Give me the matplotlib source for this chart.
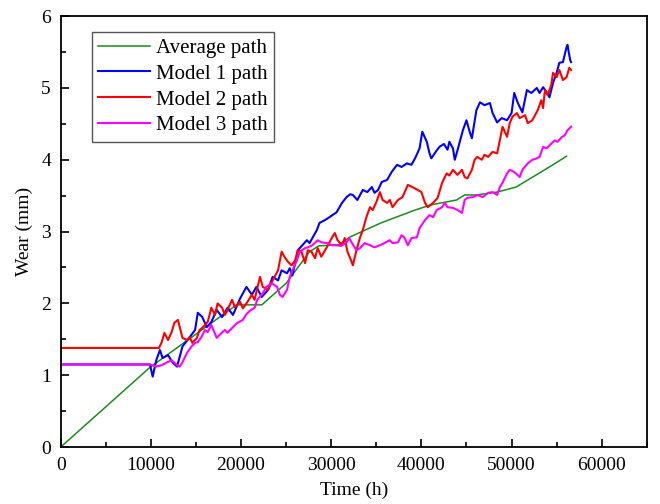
import matplotlib
matplotlib.use("Agg")
import matplotlib.pyplot as plt
from matplotlib.ticker import MultipleLocator

plt.rcParams['font.family'] = ['Liberation Serif', 'DejaVu Serif']
plt.rcParams['mathtext.fontset'] = 'stix'

# Average path (piecewise)
avg_t = [0, 9900, 19500, 22300, 25000, 27600, 28600, 30900, 32000, 35500,
         39300, 41000, 43900, 44800, 46100, 48400, 50500, 54200, 56100]
avg_w = [0, 1.11, 1.98, 1.98, 2.28, 2.72, 2.80, 2.82, 2.92, 3.12,
         3.30, 3.37, 3.44, 3.51, 3.51, 3.55, 3.62, 3.90, 4.05]

# Model 1 path
m1_t = [0, 9900, 10200, 10600, 11000, 11300, 11900, 12400, 12900, 13200, 13500,
        14300, 14900, 15200, 15700, 16200, 16700, 17300, 17900, 18500, 19100,
        19900, 20600, 21200, 21700, 22300, 23000, 23500, 24100, 24500, 25100,
        25400, 25700, 26300, 26800, 27300, 27600, 28400, 28700, 29300, 29800,
        30600, 31200, 31700, 32100, 32400, 32900, 33500, 34000, 34500, 34800,
        35200, 35600, 36200, 36700, 37300, 37800, 38400, 38900, 39300, 39800,
        40100, 40600, 40900, 41100, 41700, 42000, 42500, 42900, 43100, 43500,
        43700, 44000, 44600, 45000, 45400, 45600, 46100, 46500, 47000, 47600,
        47900, 48400, 48900, 49500, 50000, 50300, 50700, 51200, 51700, 52200,
        52800, 53100, 53500, 53900, 54200, 54600, 55000, 55300, 55700, 56100,
        56200, 56500, 56600]
m1_w = [1.15, 1.15, 0.98, 1.21, 1.35, 1.24, 1.28, 1.18, 1.12, 1.26, 1.40,
        1.53, 1.63, 1.87, 1.81, 1.67, 1.74, 1.91, 1.81, 1.94, 1.84,
        2.07, 2.23, 2.12, 2.23, 2.09, 2.19, 2.37, 2.32, 2.46, 2.42,
        2.49, 2.39, 2.74, 2.81, 2.88, 2.84, 3.02, 3.12, 3.16, 3.20,
        3.27, 3.40, 3.48, 3.52, 3.51, 3.44, 3.58, 3.55, 3.62, 3.54,
        3.58, 3.69, 3.72, 3.83, 3.93, 3.90, 3.95, 3.93, 4.02, 4.16,
        4.39, 4.25, 4.09, 4.02, 4.13, 4.18, 4.22, 4.14, 4.25, 4.16,
        4.00, 4.13, 4.41, 4.55, 4.37, 4.30, 4.69, 4.80, 4.76, 4.79,
        4.65, 4.52, 4.58, 4.55, 4.65, 4.93, 4.79, 4.66, 4.97, 4.93,
        5.00, 4.93, 5.01, 4.94, 4.87, 5.07, 5.21, 5.35, 5.36, 5.57,
        5.60, 5.39, 5.36]

# Model 2 path
m2_t = [0, 0, 10900, 11200, 11500, 11900, 12300, 12600, 13000, 13200, 13500,
        14000, 14300, 14600, 15100, 15400, 15700, 16300, 16700, 17100, 17400,
        17900, 18200, 18500, 19000, 19300, 19900, 20200, 20600, 21200, 21500,
        22100, 22400, 23000, 23500, 24100, 24500, 24800, 25200, 25600, 26000,
        26300, 26700, 27100, 27400, 27800, 28200, 28500, 28900, 29500, 30100,
        30400, 30700, 31200, 31500, 31800, 32100, 32400, 32800, 33200, 33500,
        33900, 34300, 34600, 35000, 35400, 35700, 36200, 36500, 36800, 37400,
        37900, 38500, 39000, 39600, 40000, 40400, 40700, 41300, 41800, 42300,
        42800, 43100, 43500, 44000, 44500, 44800, 45100, 45600, 45900, 46200,
        46700, 47000, 47400, 47900, 48400, 48700, 49000, 49500, 49800, 50100,
        50600, 50900, 51500, 51800, 52300, 52900, 53300, 53500, 53700, 54000,
        54400, 54600, 55000, 55300, 55700, 56100, 56400, 56600]
m2_w = [1.15, 1.38, 1.38, 1.46, 1.59, 1.49, 1.60, 1.73, 1.77, 1.67, 1.52,
        1.49, 1.53, 1.45, 1.52, 1.63, 1.66, 1.74, 1.94, 1.84, 2.00,
        1.94, 1.84, 1.91, 2.05, 1.95, 2.02, 1.93, 2.00, 2.12, 2.05,
        2.37, 2.23, 2.19, 2.32, 2.46, 2.72, 2.65, 2.58, 2.53, 2.60,
        2.74, 2.72, 2.56, 2.74, 2.72, 2.63, 2.77, 2.65, 2.78, 2.92,
        2.98, 2.88, 2.81, 2.91, 2.72, 2.63, 2.53, 2.74, 2.92, 3.02,
        3.20, 3.34, 3.30, 3.41, 3.55, 3.44, 3.40, 3.44, 3.34, 3.44,
        3.48, 3.65, 3.62, 3.58, 3.55, 3.40, 3.34, 3.40, 3.47, 3.68,
        3.81, 3.78, 3.86, 3.79, 3.86, 3.76, 3.74, 3.86, 4.00, 4.04,
        4.00, 4.07, 4.04, 4.11, 4.09, 4.27, 4.46, 4.32, 4.51, 4.60,
        4.65, 4.58, 4.62, 4.51, 4.55, 4.69, 4.83, 4.72, 4.97, 4.90,
        5.04, 5.21, 5.15, 5.25, 5.11, 5.15, 5.28, 5.25]

# Model 3 path
m3_t = [0, 9900, 10600, 11200, 11800, 12300, 12900, 13200, 13500, 14000, 14500,
        14900, 15200, 15600, 16000, 16300, 16700, 17300, 17600, 18200, 18500,
        19100, 19600, 20200, 20600, 21000, 21500, 21800, 22400, 22800, 23400,
        24000, 24300, 24600, 25100, 25400, 25700, 26200, 26500, 27100, 27400,
        27900, 28500, 28900, 29500, 30100, 30600, 31100, 31700, 32000, 32300,
        32800, 33200, 33700, 34300, 34800, 35400, 35900, 36500, 36800, 37400,
        37800, 38100, 38500, 38900, 39500, 39800, 40400, 40900, 41300, 41700,
        42300, 42600, 42900, 43500, 44000, 44500, 44800, 45100, 45700, 46200,
        46800, 47400, 47900, 48400, 48700, 49000, 49500, 49800, 50300, 50900,
        51200, 51800, 52300, 52800, 53100, 53500, 53900, 54200, 54800, 55100,
        55600, 55900, 56200, 56600]
m3_w = [1.15, 1.15, 1.12, 1.14, 1.18, 1.21, 1.14, 1.12, 1.18, 1.31, 1.40,
        1.45, 1.46, 1.53, 1.63, 1.60, 1.70, 1.52, 1.56, 1.63, 1.59,
        1.67, 1.73, 1.77, 1.85, 1.90, 1.94, 2.05, 2.14, 2.23, 2.28,
        2.23, 2.12, 2.09, 2.19, 2.37, 2.46, 2.60, 2.72, 2.77, 2.78,
        2.81, 2.88, 2.85, 2.84, 2.81, 2.81, 2.80, 2.85, 2.91, 2.84,
        2.74, 2.77, 2.84, 2.81, 2.78, 2.81, 2.84, 2.88, 2.84, 2.85,
        2.95, 2.92, 2.81, 2.91, 2.92, 3.05, 3.16, 3.23, 3.20, 3.30,
        3.34, 3.40, 3.34, 3.33, 3.30, 3.26, 3.44, 3.47, 3.48, 3.51,
        3.48, 3.54, 3.55, 3.51, 3.62, 3.68, 3.81, 3.86, 3.83, 3.76,
        3.86, 3.95, 4.00, 4.02, 4.04, 4.18, 4.16, 4.20, 4.27, 4.25,
        4.32, 4.34, 4.41, 4.46]

fig = plt.figure(figsize=(6.6, 5.04), dpi=100)
ax = fig.add_axes([0.092, 0.113, 0.888, 0.855])

ax.plot(avg_t, avg_w, color='#1a8c1a', lw=1.1, label='Average path')
ax.plot(m1_t, m1_w, color='#0000ff', lw=1.5, label='Model 1 path')
ax.plot(m2_t, m2_w, color='#ff0000', lw=1.5, label='Model 2 path')
ax.plot(m3_t, m3_w, color='#ff00ff', lw=1.5, label='Model 3 path')

ax.set_xlim(0, 65000)
ax.set_ylim(0, 6)
ax.xaxis.set_major_locator(MultipleLocator(10000))
ax.xaxis.set_minor_locator(MultipleLocator(5000))
ax.yaxis.set_major_locator(MultipleLocator(1))
ax.yaxis.set_minor_locator(MultipleLocator(0.5))
ax.tick_params(which='major', direction='in', length=6, width=1.2, labelsize=14)
ax.tick_params(axis='x', which='major', pad=7)
ax.tick_params(axis='y', which='major', pad=7)
ax.tick_params(which='minor', direction='in', length=3.5, width=1.2)
for s in ax.spines.values():
    s.set_linewidth(1.3)

ax.set_xlabel('Time (h)', fontsize=14, labelpad=6)
ax.set_ylabel('Wear (mm)', fontsize=14, labelpad=6)

leg = ax.legend(loc='upper left', bbox_to_anchor=(0.053, 0.963), borderaxespad=0,
                fontsize=15, handlelength=2.5, fancybox=False, framealpha=1,
                edgecolor='#555555', labelspacing=0.3, borderpad=0.3,
                handletextpad=0.3)
leg.get_frame().set_linewidth(1.0)

plt.savefig('out.png', dpi=100)
